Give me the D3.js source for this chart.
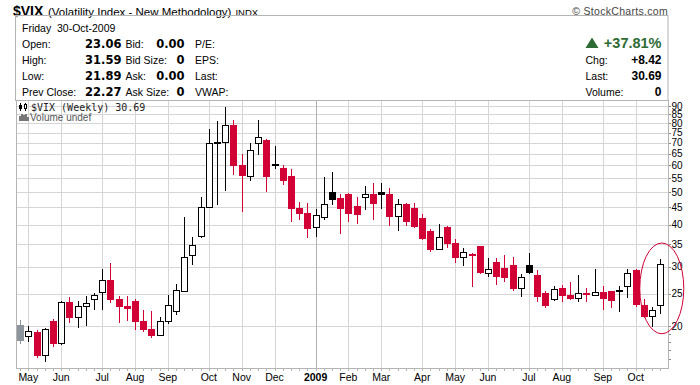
<!DOCTYPE html>
<html>
<head>
<meta charset="utf-8">
<script src="https://cdn.jsdelivr.net/npm/d3@7"></script>
<style>
body { margin: 0; background: #fff; }
</style>
</head>
<body>
<div id="chart"></div>
<script>
// weekly bars, each dated by the Monday of its week
const firstWeek = new Date(2008, 3, 28);

const open = [20.14, 18.68, 19.24, 16.41, 20.74, 17.8, 23.61, 21.25, 22.92, 24.15,
	25.33, 27.46, 24.08, 22.97, 23.72, 20.78, 19.64, 18.8, 20.7, 22.15,
	25.5, 32.47, 36.97, 45.06, 70.4, 70.4, 79.1, 60.0, 55.9, 69.74,
	71.3, 60.6, 58.9, 55.8, 44.94, 43.4, 39.31, 42.1, 49.92, 48.0,
	49.3, 45.46, 48.24, 49.3, 50.0, 49.3, 42.38, 46.1, 44.85, 41.89,
	38.33, 33.83, 39.39, 35.32, 32.03, 32.85, 34.6, 28.72, 31.02, 29.86,
	30.45, 25.92, 30.33, 28.39, 25.05, 24.05, 25.98, 24.71, 24.21, 25.1,
	24.71, 25.22, 25.37, 25.6, 26.33, 29.3, 23.13, 21.41, 23.06];
const high = [20.88, 20.0, 19.5, 19.77, 20.98, 23.77, 24.43, 23.77, 24.55, 25.16,
	29.57, 30.81, 24.59, 24.59, 24.03, 22.36, 22.2, 21.33, 24.77, 26.72,
	42.26, 36.79, 48.35, 76.9, 81.2, 89.5, 81.8, 64.8, 69.9, 81.8,
	71.6, 68.5, 60.15, 58.4, 46.72, 46.3, 44.55, 55.4, 57.33, 49.2,
	49.6, 48.35, 52.1, 53.19, 53.19, 51.4, 47.69, 46.3, 46.3, 43.05,
	38.86, 40.2, 39.7, 36.29, 34.13, 32.9, 34.7, 31.88, 31.88, 32.55,
	32.17, 28.5, 32.98, 29.37, 25.37, 26.3, 26.59, 27.06, 28.4, 25.92,
	29.57, 26.3, 25.37, 26.39, 29.51, 29.51, 24.03, 22.76, 31.59];
const low = [17.88, 18.05, 16.18, 15.75, 17.48, 17.75, 20.64, 19.9, 20.22, 22.51,
	22.51, 23.66, 20.6, 20.88, 19.68, 19.37, 18.58, 18.8, 20.41, 21.8,
	25.4, 30.66, 36.9, 45.0, 46.09, 50.7, 56.56, 44.0, 54.4, 65.0,
	50.46, 59.1, 52.9, 41.12, 41.52, 36.87, 37.12, 41.7, 46.0, 37.9,
	41.12, 40.57, 44.63, 41.7, 44.94, 40.0, 38.67, 39.93, 39.47, 36.37,
	33.4, 33.8, 34.43, 31.02, 30.45, 26.39, 28.8, 28.25, 26.75, 27.3,
	25.6, 24.65, 28.72, 23.77, 22.87, 23.93, 23.82, 24.15, 23.82, 23.72,
	24.71, 22.47, 22.76, 22.15, 24.5, 22.97, 21.35, 20.08, 21.89];
const close = [18.13, 19.33, 16.33, 19.59, 17.72, 23.61, 21.21, 22.92, 23.45, 24.71,
	27.38, 23.93, 22.87, 22.51, 20.64, 19.54, 18.71, 20.74, 23.08, 25.57,
	32.03, 34.77, 45.06, 69.74, 70.0, 78.87, 59.86, 55.8, 66.5, 72.7,
	55.5, 60.25, 54.0, 44.63, 43.13, 38.94, 42.67, 46.0, 47.27, 44.63,
	43.13, 42.84, 49.3, 46.19, 49.1, 42.26, 46.0, 40.85, 39.47, 36.37,
	33.67, 36.79, 35.08, 31.94, 33.14, 32.46, 28.84, 29.51, 28.06, 27.87,
	25.75, 27.94, 28.84, 24.38, 22.97, 25.85, 24.65, 24.15, 25.05, 24.71,
	25.22, 24.05, 23.82, 25.45, 28.72, 23.08, 21.35, 22.27, 30.69];

const yTicks = [20, 25, 30, 35, 40, 45, 50, 55, 60, 65, 70, 75, 80, 85, 90];
const yMinorTicks = [16, 17, 18, 19];
const circled = [19, 35.3];

const headerRows = [
	['Open:', '23.06', 'Bid:', '0.00', 'P/E:'],
	['High:', '31.59', 'Bid Size:', '0', 'EPS:'],
	['Low:', '21.89', 'Ask:', '0.00', 'Last:'],
	['Prev Close:', '22.27', 'Ask Size:', '0', 'VWAP:'],
];
const rightRows = [['Chg:', '+8.42'], ['Last:', '30.69'], ['Volume:', '0']];

const red = '#d10035';
const gray = '#8c959c';
const grid = '#d6d6d6';
const frame = '#b4b4b4';
const sans = 'Liberation Sans, Arial, sans-serif';

const svg = d3.select('#chart').append('svg')
	.attr('width', 700)
	.attr('height', 385)
	.style('display', 'block')

// ---- title and quote box
svg.append('text').attr('x', 13).attr('y', 16)
	.style('font-family', sans).style('font-size', '14px').style('font-weight', 'bold')
	.text('$VIX')
svg.append('text').attr('x', 48).attr('y', 16)
	.style('font-family', sans).style('font-size', '11.5px')
	.text('(Volatility Index - New Methodology)')
	.append('tspan').attr('dx', 4).style('font-size', '9.5px').text('INDX')
svg.append('text').attr('x', 668).attr('y', 14.5)
	.attr('text-anchor', 'end')
	.style('font-family', sans).style('font-size', '10.5px').style('fill', '#444')
	.style('letter-spacing', '0.3px')
	.text('\u00a9 StockCharts.com')

svg.append('rect')
	.attr('x', 15.5).attr('y', 15.5).attr('width', 652.5).attr('height', 85)
	.style('fill', 'none').style('stroke', frame)

svg.append('text').attr('x', 22).attr('y', 31.5)
	.style('font-family', sans).style('font-size', '10.5px')
	.text('Friday\u00a0\u00a030-Oct-2009')

headerRows.forEach(function(row, r) {
	var yy = 47.5 + r * 16.1;
	var g = svg.append('g').style('font-family', sans).style('font-size', '10.5px')
	g.append('text').attr('x', 22).attr('y', yy).text(row[0])
	g.append('text').attr('x', 121.5).attr('y', yy).attr('text-anchor', 'end')
		.style('font-family', 'DejaVu Sans').style('font-weight', 'bold').style('font-size', '11.5px')
		.text(row[1])
	g.append('text').attr('x', 125.5).attr('y', yy).text(row[2])
	g.append('text').attr('x', 184.5).attr('y', yy).attr('text-anchor', 'end')
		.style('font-family', 'DejaVu Sans').style('font-weight', 'bold').style('font-size', '11.5px')
		.text(row[3])
	g.append('text').attr('x', 195).attr('y', yy).text(row[4])
})

// change block on the right
svg.append('path')
	.attr('d', 'M585.5,48 L592,37.5 L598.5,48 Z')
	.style('fill', '#2f6b34')
svg.append('text').attr('x', 661.5).attr('y', 48)
	.attr('text-anchor', 'end')
	.style('font-family', sans).style('font-size', '14.5px').style('font-weight', 'bold')
	.style('fill', '#2f6b34')
	.text('+37.81%')
rightRows.forEach(function(row, r) {
	var yy = 63.5 + r * 16.1;
	svg.append('text').attr('x', 585.5).attr('y', yy)
		.style('font-family', sans).style('font-size', '10.5px')
		.text(row[0])
	svg.append('text').attr('x', 661.5).attr('y', yy).attr('text-anchor', 'end')
		.style('font-family', sans).style('font-size', '12px').style('font-weight', 'bold')
		.text(row[1])
})

// ---- price panel
const plotLeft = 16, plotRight = 668, plotTop = 100, plotBottom = 368;
const n = open.length;
const weeks = d3.range(n).map(i => d3.timeDay.offset(firstWeek, 7 * i));

const x = d3.scaleLinear().domain([-0.5, n - 0.06]).range([plotLeft, plotRight]);
const y = d3.scaleLog().domain([15.04, 93.7]).range([plotBottom, plotTop]);

const monthStarts = weeks.map((d, i) => i).filter(i => i > 0 && weeks[i].getMonth() != weeks[i - 1].getMonth());
const px = i => Math.round(x(i)) + 0.5;
const py = v => Math.round(y(v)) + 0.5;

var plot = svg.append('g').style('shape-rendering', 'crispEdges')

plot.selectAll('.hgrid').data(yTicks).enter().append('line')
	.attr('x1', plotLeft).attr('x2', plotRight)
	.attr('y1', d => py(d)).attr('y2', d => py(d))
	.style('stroke', grid)

plot.selectAll('.vgrid').data(monthStarts).enter().append('line')
	.attr('x1', d => px(d)).attr('x2', d => px(d))
	.attr('y1', plotTop).attr('y2', plotBottom)
	.style('stroke', d => weeks[d].getMonth() == 0 ? '#b0b0b0' : grid)

// frame
plot.append('rect')
	.attr('x', plotLeft + 0.5).attr('y', plotTop + 0.5)
	.attr('width', plotRight - plotLeft).attr('height', plotBottom - plotTop)
	.style('fill', 'none').style('stroke', frame)

// week ticks below the axis
plot.selectAll('.xtick').data(d3.range(n)).enter().append('line')
	.attr('x1', d => px(d)).attr('x2', d => px(d))
	.attr('y1', plotBottom + 1).attr('y2', plotBottom + 3)
	.style('stroke', frame)

svg.selectAll('.xlabel').data(monthStarts).enter().append('text')
	.attr('x', d => x(d))
	.attr('y', 380.5)
	.attr('text-anchor', 'middle')
	.style('font-family', sans)
	.style('font-size', '10.5px')
	.style('font-weight', d => weeks[d].getMonth() == 0 ? 'bold' : 'normal')
	.text(d => weeks[d].getMonth() == 0 ? d3.timeFormat('%Y')(weeks[d]) : d3.timeFormat('%b')(weeks[d]))

// right axis
plot.selectAll('.ytick').data(yTicks.concat(yMinorTicks)).enter().append('line')
	.attr('x1', plotRight + 1).attr('x2', plotRight + 3)
	.attr('y1', d => py(d)).attr('y2', d => py(d))
	.style('stroke', '#888')
svg.selectAll('.ylabel').data(yTicks).enter().append('text')
	.attr('x', 671.5)
	.attr('y', d => y(d) + 3.6)
	.style('font-family', sans)
	.style('font-size', '10px')
	.text(d => d)

// candles
function candleStyle(i) {
	if (i == 0) return {hollow: false, color: gray};
	var color = close[i] >= close[i - 1] ? '#000' : red;
	return {hollow: close[i] > open[i], color: color};
}

var candles = plot.selectAll('.candle').data(d3.range(n)).enter().append('g')

candles.append('line')
	.attr('x1', px).attr('x2', px)
	.attr('y1', i => Math.round(y(high[i])))
	.attr('y2', i => Math.round(y(low[i])) + 1)
	.style('stroke', i => candleStyle(i).color)

candles.append('rect')
	.attr('x', i => candleStyle(i).hollow ? px(i) - 3 : px(i) - 3.5)
	.attr('width', i => candleStyle(i).hollow ? 6 : 7)
	.attr('y', function(i) {
		var t = Math.round(y(Math.max(open[i], close[i])));
		return candleStyle(i).hollow ? t + 0.5 : t;
	})
	.attr('height', function(i) {
		var t = Math.round(y(Math.max(open[i], close[i])));
		var b = Math.round(y(Math.min(open[i], close[i])));
		return Math.max(b - t, 2);
	})
	.style('fill', i => candleStyle(i).hollow ? '#fff' : candleStyle(i).color)
	.style('stroke', i => candleStyle(i).hollow ? candleStyle(i).color : 'none')

// legend in the panel
var leg = svg.append('g').style('shape-rendering', 'crispEdges')
leg.append('line').attr('x1', 20.5).attr('x2', 20.5).attr('y1', 103).attr('y2', 111).style('stroke', '#000')
leg.append('rect').attr('x', 19).attr('y', 105).attr('width', 3).attr('height', 4).style('fill', '#000')
leg.append('line').attr('x1', 25.5).attr('x2', 25.5).attr('y1', 103).attr('y2', 111).style('stroke', '#000')
leg.append('rect').attr('x', 24.5).attr('y', 104.5).attr('width', 2).attr('height', 4).style('fill', '#fff').style('stroke', '#000')
svg.append('text').attr('x', 31).attr('y', 111)
	.style('font-family', 'DejaVu Sans Mono').style('font-size', '10px').style('fill', '#222')
	.text('$VIX (Weekly) 30.69')
leg.selectAll('.vbar').data([[19, 116], [21, 114], [23, 115], [25, 114], [27, 117]]).enter().append('rect')
	.attr('x', d => d[0]).attr('y', d => d[1]).attr('width', 1.5).attr('height', d => 121 - d[1])
	.style('fill', '#777')
svg.append('text').attr('x', 30).attr('y', 120.5)
	.style('font-family', sans).style('font-size', '10px').style('fill', '#555')
	.text('Volume undef')

// red circle around the last bar
svg.append('ellipse')
	.attr('cx', x(n - 1) + 1.5)
	.attr('cy', (y(circled[0]) + y(circled[1])) / 2)
	.attr('rx', 22)
	.attr('ry', (y(circled[0]) - y(circled[1])) / 2)
	.style('fill', 'none')
	.style('stroke', red)
	.style('stroke-width', 1)
</script>
</body>
</html>
